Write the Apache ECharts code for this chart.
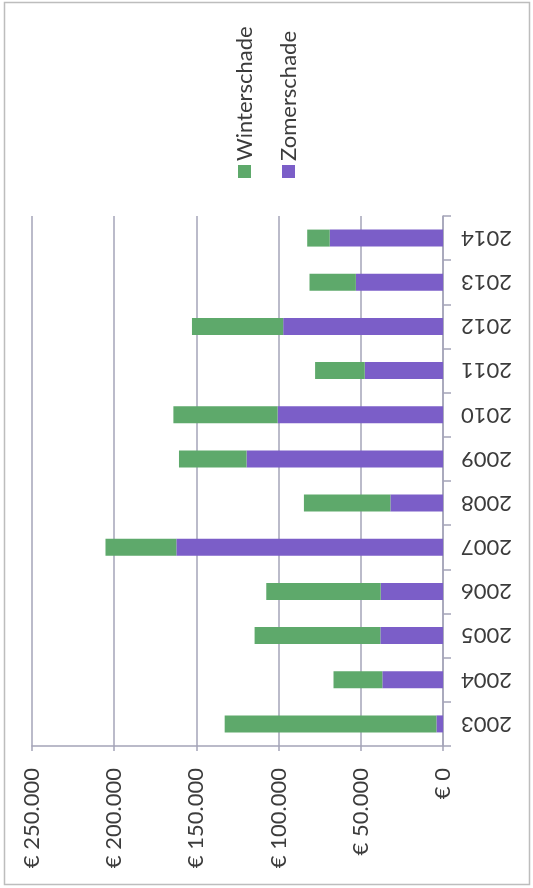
<!DOCTYPE html>
<html>
<head>
<meta charset="utf-8">
<script src="https://cdn.jsdelivr.net/npm/echarts@6/dist/echarts.min.js"></script>
<style>
html,body{margin:0;padding:0;background:#fff;}
#chart{width:533px;height:888px;}
</style>
</head>
<body>
<div id="chart"></div>
<script>
const years = ['2003','2004','2005','2006','2007','2008','2009','2010','2011','2012','2013','2014'];
const zomerschade = [4000, 36900, 38100, 37900, 162200, 32000, 119500, 100600, 47600, 97200, 53000, 68900];
const winterschade = [128800, 29700, 76500, 69600, 43100, 52600, 41100, 63400, 30200, 55500, 28200, 13700];
const seriesNames = ['Winterschade', 'Zomerschade'];
const seriesColors = ['#5ea96b', '#7b5ec8'];
const tickLabels = ['€ 0', '€ 50.000', '€ 100.000', '€ 150.000', '€ 200.000', '€ 250.000'];

const font = 'Lato, "Open Sans", sans-serif';
const textColor = '#3c3c3c';
const gridColor = '#a4a4b8';

const chart = echarts.init(document.getElementById('chart'), null, {renderer: 'canvas'});

const legendGraphics = [];
seriesNames.forEach(function (name, i) {
  const cx = 244.5 + i * 44;
  legendGraphics.push({
    type: 'rect',
    shape: {x: cx - 6.5, y: 165, width: 13, height: 13},
    style: {fill: seriesColors[i]}
  });
  legendGraphics.push({
    type: 'text',
    x: cx,
    y: 161,
    rotation: Math.PI / 2,
    style: {
      text: name,
      font: '22px ' + font,
      fill: textColor,
      align: 'left',
      verticalAlign: 'middle'
    }
  });
});

chart.setOption({
  animation: false,
  backgroundColor: '#fff',
  grid: {left: 32, right: 90, top: 216, bottom: 142, containLabel: false},
  xAxis: {
    type: 'value',
    inverse: true,
    position: 'bottom',
    min: 0,
    max: 250000,
    interval: 50000,
    axisLine: {show: true, lineStyle: {color: gridColor, width: 1.5}},
    axisTick: {show: true, length: 5, lineStyle: {color: gridColor, width: 1.5}},
    splitLine: {show: true, lineStyle: {color: gridColor, width: 1.5}},
    axisLabel: {
      rotate: 90,
      margin: 22,
      fontSize: 22,
      fontFamily: font,
      color: textColor,
      formatter: function (v) { return tickLabels[Math.round(v / 50000)]; }
    }
  },
  yAxis: {
    type: 'category',
    position: 'right',
    data: years,
    boundaryGap: true,
    axisLine: {show: true, onZero: false, lineStyle: {color: gridColor, width: 1.5}},
    axisTick: {show: true, length: 8, lineStyle: {color: gridColor, width: 1.5}},
    axisLabel: {
      rotate: 180,
      margin: 18,
      fontSize: 22,
      fontFamily: font,
      color: textColor
    }
  },
  series: [
    {
      name: 'Zomerschade',
      type: 'bar',
      stack: 'total',
      data: zomerschade,
      barWidth: 17,
      itemStyle: {color: seriesColors[1]}
    },
    {
      name: 'Winterschade',
      type: 'bar',
      stack: 'total',
      data: winterschade,
      barWidth: 17,
      itemStyle: {color: seriesColors[0]}
    }
  ],
  graphic: [
    {
      type: 'rect',
      shape: {x: 4.5, y: 2.5, width: 525, height: 882},
      style: {fill: 'none', stroke: '#bdbdbd', lineWidth: 1.5},
      silent: true
    }
  ].concat(legendGraphics)
});
</script>
</body>
</html>
